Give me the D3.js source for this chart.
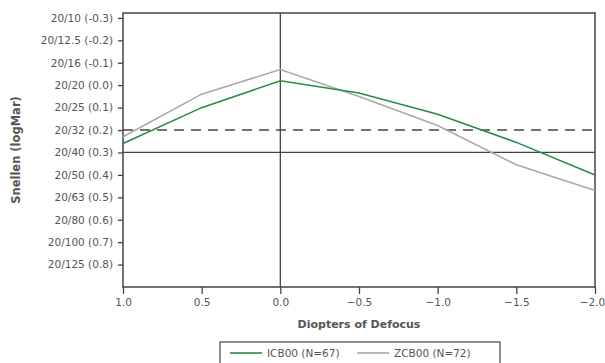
<!DOCTYPE html>
<html>
<head>
<meta charset="utf-8">
<script src="https://cdn.jsdelivr.net/npm/d3@7"></script>
<style>
  body { margin: 0; background: #fff; }
  text { font-family: "DejaVu Sans", sans-serif; fill: #555; }
</style>
</head>
<body>
<div id="chart-container"></div>
<script>
// data
const defocus = [1.0, 0.5, 0.0, -0.5, -1.0, -1.5, -2.0];
const icb00 = [0.26, 0.10, -0.02, 0.035, 0.13, 0.255, 0.40];
const zcb00 = [0.23, 0.04, -0.07, 0.05, 0.18, 0.355, 0.47];
const seriesNames = ["ICB00 (N=67)", "ZCB00 (N=72)"];
const seriesColors = ["#2b8a44", "#a9a9a9"];
const yTickValues = [-0.3, -0.2, -0.1, 0.0, 0.1, 0.2, 0.3, 0.4, 0.5, 0.6, 0.7, 0.8];
const yTickLabels = ["20/10 (-0.3)", "20/12.5 (-0.2)", "20/16 (-0.1)", "20/20 (0.0)", "20/25 (0.1)",
  "20/32 (0.2)", "20/40 (0.3)", "20/50 (0.4)", "20/63 (0.5)", "20/80 (0.6)", "20/100 (0.7)", "20/125 (0.8)"];
const xTickValues = [1.0, 0.5, 0.0, -0.5, -1.0, -1.5, -2.0];

const margin = { top: 13, right: 10, bottom: 76, left: 123 };
const W = 605, H = 363;
const width = W - margin.left - margin.right;
const height = H - margin.top - margin.bottom;

const svg = d3.select("#chart-container")
  .append("svg")
  .attr("width", W)
  .attr("height", H);

const g = svg.append("g")
  .attr("transform", `translate(${margin.left},${margin.top})`);

const x = d3.scaleLinear().domain([1.0, -2.0]).range([0, width]);
const y = d3.scaleLinear().domain([-0.322, 0.9]).range([0, height]);

// axes
const yAxis = g.append("g")
  .call(d3.axisLeft(y).tickValues(yTickValues)
    .tickFormat((d, i) => yTickLabels[i]).tickSize(5).tickPadding(5));
const xAxis = g.append("g")
  .attr("transform", `translate(0,${height})`)
  .call(d3.axisBottom(x).tickValues(xTickValues)
    .tickFormat(d3.format(".1f")).tickSize(7).tickPadding(5));

[yAxis, xAxis].forEach(a => {
  a.select(".domain").remove();
  a.selectAll("line").attr("stroke", "#444").attr("stroke-width", 1.3);
  a.selectAll("text").style("font-size", "10.5px").attr("fill", "#555");
});
// keep the last x label inside the page
xAxis.selectAll("text").filter(d => d === -2.0).attr("dx", "-3");

// frame
g.append("rect")
  .attr("width", width).attr("height", height)
  .attr("fill", "none").attr("stroke", "#444").attr("stroke-width", 1.5);

// reference lines
g.append("line")
  .attr("x1", x(0)).attr("x2", x(0)).attr("y1", 0).attr("y2", height)
  .attr("stroke", "#444").attr("stroke-width", 1.3);
g.append("line")
  .attr("x1", 0).attr("x2", width).attr("y1", y(0.3)).attr("y2", y(0.3))
  .attr("stroke", "#444").attr("stroke-width", 1.3);
g.append("line")
  .attr("x1", 0).attr("x2", width).attr("y1", y(0.2)).attr("y2", y(0.2))
  .attr("stroke", "#444").attr("stroke-width", 1.5).attr("stroke-dasharray", "10,7");

// series lines
const line = d3.line().x((d, i) => x(defocus[i])).y(d => y(d));
[zcb00, icb00].forEach((s, k) => {
  g.append("path")
    .datum(s)
    .attr("d", line)
    .attr("fill", "none")
    .attr("stroke", k === 0 ? seriesColors[1] : seriesColors[0])
    .attr("stroke-width", 1.6);
});

// axis titles
svg.append("text")
  .attr("x", margin.left + width / 2)
  .attr("y", 328)
  .style("text-anchor", "middle")
  .style("font-size", "11px")
  .style("font-weight", "bold")
  .text("Diopters of Defocus");

svg.append("text")
  .attr("transform", `translate(20,150) rotate(-90)`)
  .style("text-anchor", "middle")
  .style("font-size", "11.5px")
  .style("font-weight", "bold")
  .text("Snellen (logMar)");

// legend
const legend = svg.append("g").attr("transform", "translate(220,342)");
legend.append("rect")
  .attr("width", 280).attr("height", 30)
  .attr("fill", "#fff").attr("stroke", "#444").attr("stroke-width", 1.2);
const legendX = [10, 137];
seriesNames.forEach((name, i) => {
  legend.append("line")
    .attr("x1", legendX[i]).attr("x2", legendX[i] + 32)
    .attr("y1", 11).attr("y2", 11)
    .attr("stroke", seriesColors[i]).attr("stroke-width", 1.6);
  legend.append("text")
    .attr("x", legendX[i] + 37).attr("y", 15)
    .style("font-size", "10.5px")
    .attr("fill", "#333")
    .text(name);
});
</script>
</body>
</html>
